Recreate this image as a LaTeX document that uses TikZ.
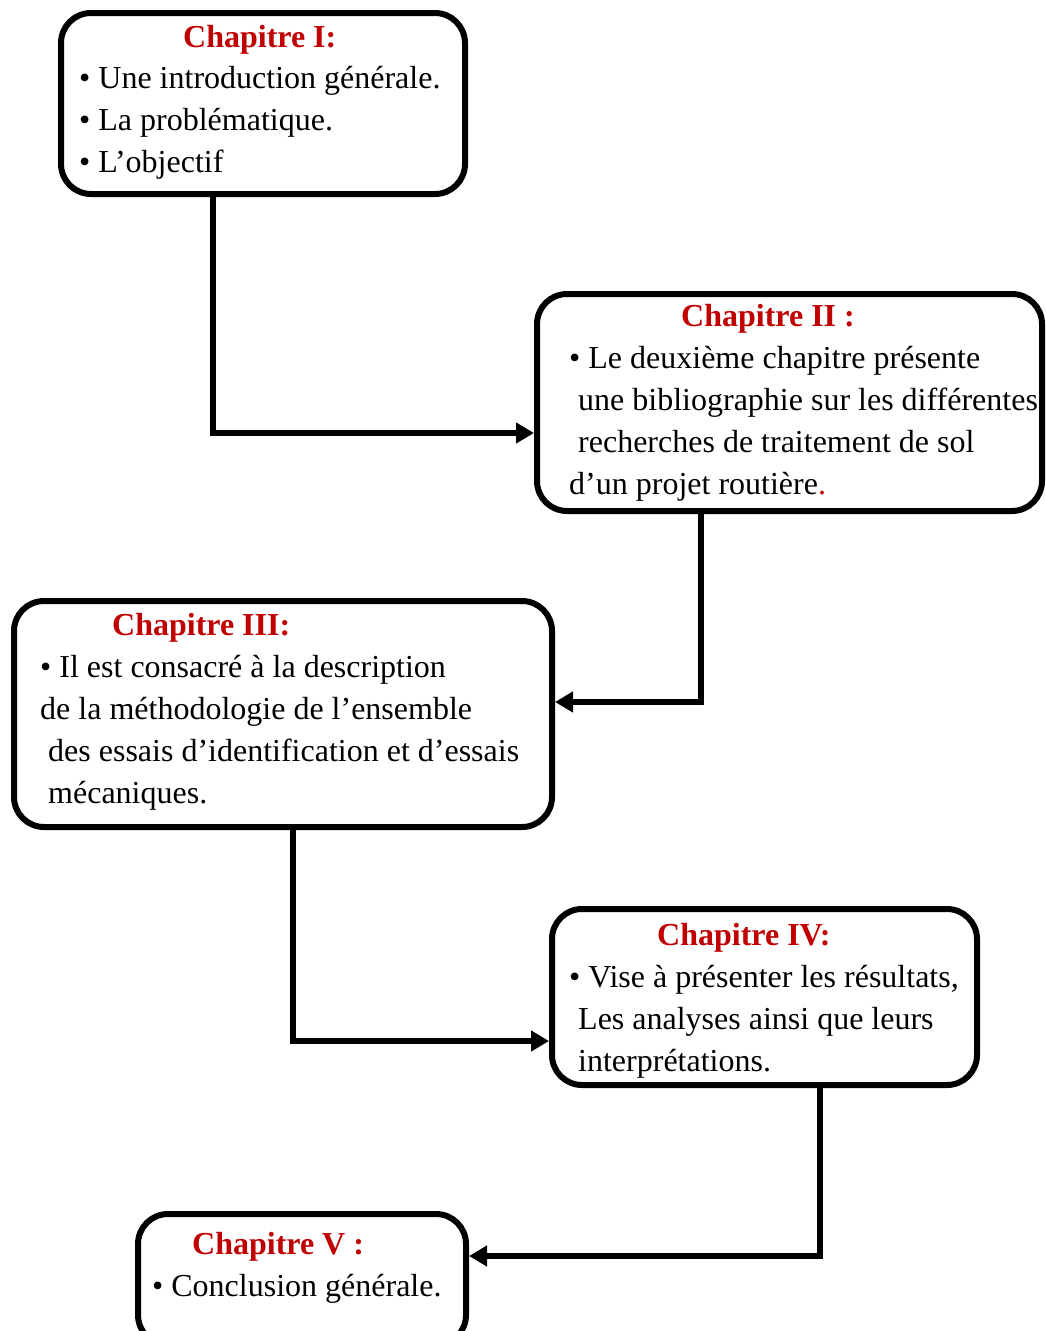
\documentclass[tikz,border=0pt]{standalone}
\usepackage{fontspec}
\setmainfont{Liberation Serif}
\usetikzlibrary{arrows.meta}
\definecolor{chapred}{RGB}{192,0,0}
\begin{document}
\begin{tikzpicture}[x=1pt,y=-1pt,
	chapbox/.style={draw,line width=6pt,rounded corners=30pt,inner sep=0pt},
	txt/.style={anchor=base west,inner sep=0pt,font=\fontsize{32}{42}\selectfont},
	ttl/.style={txt,font=\fontsize{32}{42}\selectfont\bfseries,text=chapred},
	link/.style={line width=5.5pt,-{Triangle[length=18pt,width=20pt]}}]
	\useasboundingbox (0,0) rectangle (1046,1331);
	% boxes
	\node[chapbox,minimum width=404pt,minimum height=181pt] (c1) at (263,103.5) {};
	\node[chapbox,minimum width=505pt,minimum height=217pt] (c2) at (789.5,402.5) {};
	\node[chapbox,minimum width=538pt,minimum height=226pt] (c3) at (283,714) {};
	\node[chapbox,minimum width=425pt,minimum height=176pt] (c4) at (764.5,997) {};
	\node[chapbox,minimum width=328pt,minimum height=131pt] (c5) at (302,1279.5) {};
	% chapitre I
	\node[ttl] (t10) at (183,47) {Chapitre I:};
	\node[txt] (t11) at (79,88) {• Une introduction générale.};
	\node[txt] (t12) at (79,130) {• La problématique.};
	\node[txt] (t13) at (79,172) {• L’objectif};
	% chapitre II
	\node[ttl] (t20) at (681,326) {Chapitre II :};
	\node[txt] (t21) at (569,368) {• Le deuxième chapitre présente};
	\node[txt] (t22) at (578,410) {une bibliographie sur les différentes};
	\node[txt] (t23) at (578,452) {recherches de traitement de sol};
	\node[txt] (t24) at (569,494) {d’un projet routière\textcolor{chapred}{.}};
	% chapitre III
	\node[ttl] (t30) at (112,635) {Chapitre III:};
	\node[txt] (t31) at (40,677) {• Il est consacré à la description};
	\node[txt] (t32) at (40,719) {de la méthodologie de l’ensemble};
	\node[txt] (t33) at (48,761) {des essais d’identification et d’essais};
	\node[txt] (t34) at (48,803) {mécaniques.};
	% chapitre IV
	\node[ttl] (t40) at (657,945) {Chapitre IV:};
	\node[txt] (t41) at (569,987) {• Vise à présenter les résultats,};
	\node[txt] (t42) at (578,1029) {Les analyses ainsi que leurs};
	\node[txt] (t43) at (578,1071) {interprétations.};
	% chapitre V
	\node[ttl] (t50) at (192,1254) {Chapitre V :};
	\node[txt] (t51) at (152,1296) {• Conclusion générale.};
	% links
	\coordinate (k1) at (213,433);
	\coordinate (k2) at (701,702);
	\coordinate (k3) at (293,1041);
	\coordinate (k4) at (820,1256);
	\draw[link] (c1.south -| k1) -- (k1) -- (k1 -| c2.west);
	\draw[link] (c2.south -| k2) -- (k2) -- (k2 -| c3.east);
	\draw[link] (c3.south -| k3) -- (k3) -- (k3 -| c4.west);
	\draw[link] (c4.south -| k4) -- (k4) -- (k4 -| c5.east);
\end{tikzpicture}
\end{document}
